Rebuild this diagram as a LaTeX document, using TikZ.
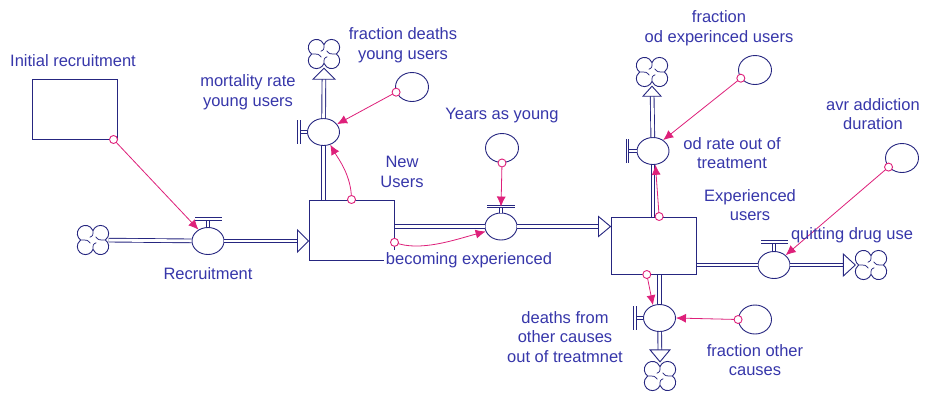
\documentclass[tikz,border=0pt]{standalone}
\usepackage{fontspec}
\setmainfont{Liberation Sans}
\usetikzlibrary{shapes.geometric,arrows.meta}

\definecolor{navy}{RGB}{38,38,128}
\definecolor{txtblue}{RGB}{55,55,170}
\definecolor{linkpink}{RGB}{222,32,122}

\tikzset{
  stock/.style={rectangle, draw=navy, line width=1pt, fill=white,
    minimum width=85pt, minimum height=60pt, inner sep=0pt},
  valve/.style={ellipse, draw=navy, line width=0.9pt, fill=white,
    minimum width=32pt, minimum height=27pt, inner sep=0pt},
  aux/.style={ellipse, draw=navy, line width=0.9pt, fill=white,
    minimum width=33pt, minimum height=29pt, inner sep=0pt},
  sink/.style={ellipse, minimum width=31pt, minimum height=28pt, inner sep=0pt},
  cloudpic/.pic={
    \begin{scope}[scale=1.08]
    \draw[navy, line width=0.9pt, fill=white, line join=round]
      (11.5,0) arc[start angle=-53.13, end angle=158.96, radius=7.5]
               arc[start angle=21.04, end angle=233.13, radius=7.5]
               arc[start angle=126.87, end angle=338.96, radius=7.5]
               arc[start angle=201.04, end angle=413.13, radius=7.5] -- cycle;
    \draw[navy, line width=0.75pt]
      (11.5,0) .. controls (5,0) .. (2.5,-3)
      (0,-8.7) .. controls (0,-4) .. (-3,-2.5)
      (-11.5,0) .. controls (-5,0) .. (-2.5,3)
      (0,8.7) .. controls (0,4) .. (3,2.5);
    \end{scope}
  },
  pipe/.style={draw=navy, line width=0.9pt, double=white, double distance=2.8pt},
  stem/.style={draw=navy, line width=0.8pt, double=white, double distance=2pt},
  bar/.style={draw=navy, line width=0.8pt, double=white, double distance=1.6pt},
  head/.style={draw=navy, line width=0.9pt, fill=white, line join=miter},
  link/.style={draw=linkpink, line width=0.8pt, -{Latex[length=10pt,width=9pt]}},
  tap/.style={circle, draw=linkpink, line width=0.9pt, fill=white,
    minimum size=8pt, inner sep=0pt},
  lbl/.style={text=txtblue, align=center, inner sep=1pt,
    font=\fontsize{16.5pt}{19.5pt}\selectfont},
}

\begin{document}
\begin{tikzpicture}[x=1pt,y=-1pt]
\useasboundingbox[fill=white] (0,0) rectangle (925,392);

% stocks
\node[stock] (initrec) at (74.5,109) {};
\node[stock] (newusers) at (351.5,230) {};
\node[stock, minimum height=57pt] (expusers) at (653.5,245.5) {};

% flow valves
\node[valve] (recruit) at (208,241) {};
\node[valve] (mort) at (323.5,132) {};
\node[valve] (becoming) at (501,226.5) {};
\node[valve] (odrate) at (653,151) {};
\node[valve] (quitting) at (774,265) {};
\node[valve] (deaths) at (659.5,318) {};

% auxiliary variables
\node[aux] (fracdeath) at (412,87) {};
\node[aux] (yearsyoung) at (502,148) {};
\node[aux] (fracod) at (755,70) {};
\node[aux] (avrdur) at (902,158) {};
\node[aux] (fracother) at (755,319.5) {};

% sources and sinks
\node[sink] (src) at (93,240) {};
\node[sink] (mortcloud) at (324,54) {};
\node[sink] (odcloud) at (652,72) {};
\node[sink] (quitcloud) at (871,265) {};
\node[sink] (deathcloud) at (660,376) {};
\pic at (src) {cloudpic};
\pic at (mortcloud) {cloudpic};
\pic at (odcloud) {cloudpic};
\pic at (quitcloud) {cloudpic};
\pic at (deathcloud) {cloudpic};

% valve handles
\draw[stem] (recruit.north) -- ++(0,-8) coordinate (recbar);
\draw[bar] (recbar) ++(-13,0) -- ++(27,0);
\draw[stem] (mort.west) -- ++(-8,0) coordinate (mortbar);
\draw[bar] (mortbar) ++(0,-12) -- ++(0,24);
\draw[stem] (becoming.north) -- ++(0,-6) coordinate (becbar);
\draw[bar] (becbar) ++(-14,0) -- ++(28,0);
\draw[stem] (odrate.west) -- ++(-9,0) coordinate (odbar);
\draw[bar] (odbar) ++(0,-12) -- ++(0,24);
\draw[stem] (quitting.north) -- ++(0,-9) coordinate (quitbar);
\draw[bar] (quitbar) ++(-13,0) -- ++(27,0);
\draw[stem] (deaths.west) -- ++(-8,0) coordinate (deathbar);
\draw[bar] (deathbar) ++(0,-12) -- ++(0,24);

% material flows
\draw[pipe] (src) -- (recruit);
\draw[pipe, shorten >=11pt] (recruit) -- (recruit -| newusers.west);
\draw[head] (recruit -| newusers.west) -- ++(-11,-11) -- ++(0,22) -- cycle;

\draw[pipe] (mort |- newusers.north) -- (mort);
\draw[pipe, shorten >=11pt] (mort) -- (mortcloud.south);
\draw[head] (mortcloud.south) -- ++(-11,11) -- ++(22,0) -- cycle;

\draw[pipe] (becoming -| newusers.east) -- (becoming);
\draw[pipe, shorten >=12pt] (becoming) -- (becoming -| expusers.west);
\draw[head] (becoming -| expusers.west) -- ++(-12,-10) -- ++(0,20) -- cycle;

\draw[pipe] (odrate |- expusers.north) -- (odrate);
\draw[pipe, shorten >=10pt] (odrate) -- (odcloud.south);
\draw[head] (odcloud.south) -- ++(-9,10) -- ++(18,0) -- cycle;

\draw[pipe] (quitting -| expusers.east) -- (quitting);
\draw[pipe, shorten >=12pt] (quitting) -- (quitcloud.west);
\draw[head] (quitcloud.west) -- ++(-12,-11) -- ++(0,22) -- cycle;

\draw[pipe] (deaths |- expusers.south) -- (deaths);
\draw[pipe, shorten >=12pt] (deaths) -- (deathcloud.north);
\draw[head] (deathcloud.north) -- ++(-10,-12) -- ++(20,0) -- cycle;

% information links
\draw[link] (initrec.-38) -- (recruit.130);
\node[tap] at (initrec.-38) {};
\draw[link] (fracdeath.198) -- (mort.30);
\node[tap] at (fracdeath.198) {};
\draw[link] (newusers.north) .. controls +(0,-24) and +(8,14) .. (mort.-62);
\node[tap] at (newusers.north) {};
\draw[link] (yearsyoung.south) -- (becbar);
\node[tap] at (yearsyoung.south) {};
\draw[link] (newusers.-16) .. controls +(25,10) and +(-30,8) .. (becoming.198);
\node[tap] at (newusers.-16) {};
\draw[link] (fracod.210) -- (odrate.47);
\node[tap] at (fracod.210) {};
\draw[link] (expusers.79) -- (odrate.-80);
\node[tap] at (expusers.79) {};
\draw[link] (avrdur.214) -- (quitting.40);
\node[tap] at (avrdur.214) {};
\draw[link] (expusers.-103) -- (deaths.117);
\node[tap] at (expusers.-103) {};
\draw[link] (fracother.west) -- (deaths.east);
\node[tap] at (fracother.west) {};

% labels
\node[lbl] (l1) at (73,61) {Initial recruitment};
\node[lbl] (l2) at (248,92) {mortality rate\\young users};
\node[lbl] (l3) at (403,45) {fraction deaths\\young users};
\node[lbl] (l4) at (502,116) {Years as young};
\node[lbl] (l5) at (402,172) {New\\Users};
\node[lbl] (l6) at (208,274) {Recruitment};
\node[lbl, fill=white, inner sep=2pt] (l7) at (469,260) {becoming experienced};
\node[lbl] (l8) at (719,28) {fraction\\od experinced users};
\node[lbl] (l9) at (732,153) {od rate out of\\treatment};
\node[lbl] (l10) at (750,205) {Experienced\\users};
\node[lbl] (l11) at (873,114) {avr addiction\\duration};
\node[lbl] (l12) at (852,235) {quitting drug use};
\node[lbl] (l13) at (565,337) {deaths from\\other causes\\out of treatmnet};
\node[lbl] (l14) at (755,360) {fraction other\\causes};
\end{tikzpicture}
\end{document}
